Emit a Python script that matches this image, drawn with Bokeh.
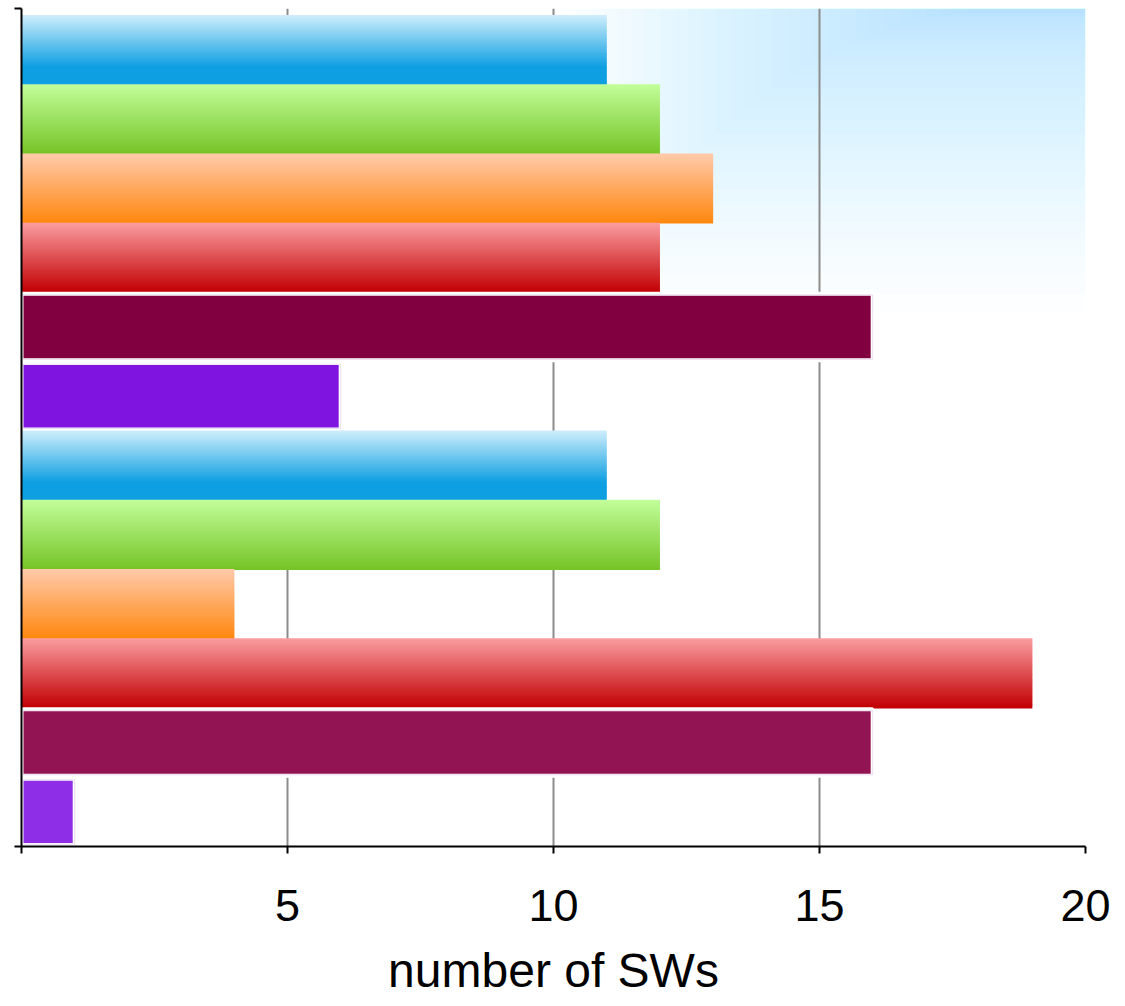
from bokeh.plotting import figure
from bokeh.models import Range1d, FixedTicker, BoxAnnotation
from bokeh.embed import file_html
from bokeh.resources import INLINE

# ---- data ----
series = ["s1", "s2", "s3", "s4", "s5", "s6"]
group_1_values = [11, 12, 13, 12, 16, 6]
group_2_values = [11, 12, 4, 19, 16, 1]
x_ticks = [0, 5, 10, 15, 20]
x_tick_labels = {0: "", 5: "5", 10: "10", 15: "15", 20: "20"}
x_title = "number of SWs"

# ---- styles ----
# gradient bars: (top colour, bottom colour, fraction where bottom colour is reached)
grad_styles = {
    "s1": ("#cfeefb", "#0e9fe2", 0.75),
    "s2": ("#c2fe9a", "#76c428", 1.0),
    "s3": ("#ffcaab", "#ff870f", 1.0),
    "s4": ("#fa9da0", "#c20003", 1.0),
}
flat_styles_1 = {"s5": "#800040", "s6": "#7f14e0"}
flat_styles_2 = {"s5": "#921452", "s6": "#8e2ee6"}

FONT = "Liberation Sans"
N_STRIPS = 60
FRAME_H = 838
WASH_LAYERS = 30

values = group_1_values + group_2_values
names = series + series
n = len(values)

p = figure(width=1117, height=1006, output_backend="svg", toolbar_location=None,
           x_range=Range1d(0, 20), y_range=Range1d(0, n + 0.1),
           min_border_left=21, min_border_right=32, min_border_top=8,
           min_border_bottom=160, outline_line_color=None,
           background_fill_color="white", border_fill_color="white")

# light blue slide-background wash toward the top right (decoration only)
for i in range(WASH_LAYERS):
    depth = 300 * (1 - i / WASH_LAYERS) ** 2 + 4
    p.add_layout(BoxAnnotation(left=540 + i * 14, right=1100, top=FRAME_H + 20,
                               bottom=FRAME_H - depth,
                               left_units="screen", right_units="screen",
                               top_units="screen", bottom_units="screen",
                               fill_color="#86d8f0", fill_alpha=0.028, line_color=None,
                               level="image"))


def lerp(c1, c2, t):
    a = [int(c1[i:i + 2], 16) for i in (1, 3, 5)]
    b = [int(c2[i:i + 2], 16) for i in (1, 3, 5)]
    return "#%02x%02x%02x" % tuple(round(a[k] + (b[k] - a[k]) * t) for k in range(3))


for k, (name, v) in enumerate(zip(names, values)):
    center = n - (k + 0.5)
    if name in grad_styles:
        top, bot, reach = grad_styles[name]
        ys, cs = [], []
        for j in range(N_STRIPS):
            t = min(1.0, (j + 0.5) / N_STRIPS / reach)
            ys.append(center + 0.5 - (j + 0.5) / N_STRIPS)
            cs.append(lerp(top, bot, t))
        p.hbar(y=ys, right=[v] * N_STRIPS, left=0, height=1.0 / N_STRIPS + 0.012,
               fill_color=cs, line_color=None)
    else:
        col = (flat_styles_1 if k < len(series) else flat_styles_2)[name]
        p.hbar(y=[center], right=[v], left=0, height=0.96, fill_color=col,
               line_color="white", line_width=4)
        p.hbar(y=[center], right=[v], left=0, height=0.93, fill_color=None,
               line_color="#e0c8e8", line_width=1, line_alpha=0.6)

# grid
p.ygrid.grid_line_color = None
p.xgrid.ticker = FixedTicker(ticks=x_ticks)
p.xgrid.grid_line_color = "#8c8c8c"
p.xgrid.grid_line_width = 2

# x axis
ax = p.xaxis[0]
ax.ticker = FixedTicker(ticks=x_ticks)
ax.major_label_overrides = x_tick_labels
ax.axis_line_color = "black"
ax.axis_line_width = 2
ax.major_tick_line_color = "black"
ax.major_tick_line_width = 2
ax.major_tick_out = 7
ax.major_tick_in = 0
ax.minor_tick_line_color = None
ax.major_label_text_font = FONT
ax.major_label_text_font_size = "45px"
ax.major_label_text_color = "black"
ax.major_label_standoff = 36
ax.axis_label = x_title
ax.axis_label_text_font = FONT
ax.axis_label_text_font_size = "48px"
ax.axis_label_text_font_style = "normal"
ax.axis_label_text_color = "black"
ax.axis_label_standoff = 20

# y axis (labels are cut off in the picture)
ay = p.yaxis[0]
ay.ticker = FixedTicker(ticks=[0, n + 0.1])
ay.major_label_text_font_size = "0px"
ay.major_label_overrides = {0: "", n + 0.1: ""}
ay.axis_line_color = "black"
ay.axis_line_width = 2
ay.major_tick_line_color = "black"
ay.major_tick_line_width = 2
ay.major_tick_out = 7
ay.major_tick_in = 0
ay.minor_tick_line_color = None
ay.major_label_standoff = 0

open("out.html", "w").write(file_html(p, INLINE))
